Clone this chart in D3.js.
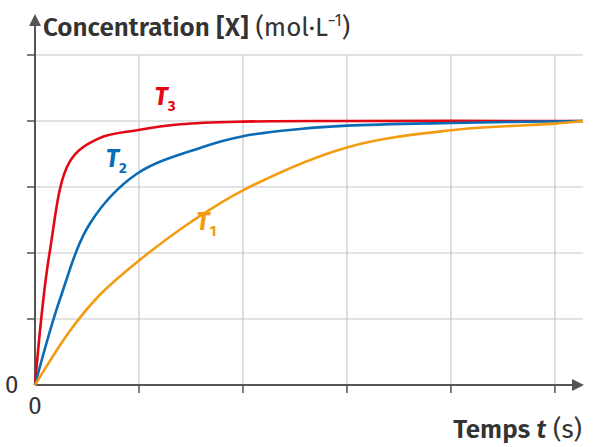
<!DOCTYPE html>
<html><head><meta charset="utf-8">
<script src="https://cdn.jsdelivr.net/npm/d3@7"></script>
<style>body{margin:0;background:#fff}</style>
</head><body>
<svg id="c" width="598" height="447"></svg>
<script>
const xTicks = [1, 2, 3, 4, 5];
const yTicks = [1, 2, 3, 4, 5];
const seriesT3 = [[0,0],[0.14,2.0],[0.34,3.4],[0.62,3.74],[0.98,3.86],[1.4,3.95],[2,3.99],[3,4],[5.27,4]];
const seriesT2 = [[0,0],[0.24,1.3],[0.53,2.45],[0.98,3.2],[1.6,3.6],[2,3.77],[2.55,3.88],[3,3.93],[4,3.97],[5.27,4]];
const seriesT1 = [[0,0],[0.34,0.83],[0.62,1.36],[0.98,1.86],[1.5,2.47],[2,2.95],[3,3.6],[4,3.86],[5,3.96],[5.27,4]];
const series = [
  {name: "T", sub: "3", data: seriesT3, color: "#e30613", at: [1.15, 4.25]},
  {name: "T", sub: "2", data: seriesT2, color: "#0b6cb5", at: [0.68, 3.3]},
  {name: "T", sub: "1", data: seriesT1, color: "#f39c12", at: [1.55, 2.35]}
];

const svg = d3.select("#c");
const font = "'Fira Sans','Open Sans',sans-serif";
const x = d3.scaleLinear().domain([0, 5.27]).range([35, 583]);
const y = d3.scaleLinear().domain([0, 4]).range([385, 121]);

// grid
svg.append("g").selectAll("line").data(xTicks).join("line")
  .attr("x1", d => x(d)).attr("x2", d => x(d)).attr("y1", y(0)).attr("y2", y(5))
  .attr("stroke", "#c8c8c8").attr("stroke-width", 1.2);
svg.append("g").selectAll("line").data(yTicks).join("line")
  .attr("x1", x(0)).attr("x2", 583).attr("y1", d => y(d)).attr("y2", d => y(d))
  .attr("stroke", "#c8c8c8").attr("stroke-width", 1.2);

// axes
const ax = "#555";
svg.append("line").attr("x1", x(0)).attr("x2", 573).attr("y1", y(0)).attr("y2", y(0)).attr("stroke", ax).attr("stroke-width", 2);
svg.append("path").attr("d", `M584,${y(0)} L572,${y(0)-6} L572,${y(0)+6}Z`).attr("fill", ax);
svg.append("line").attr("x1", x(0)).attr("x2", x(0)).attr("y1", y(0)).attr("y2", 26).attr("stroke", ax).attr("stroke-width", 2);
svg.append("path").attr("d", `M${x(0)},14 L${x(0)-6},26 L${x(0)+6},26Z`).attr("fill", ax);
svg.append("g").selectAll("line").data(xTicks).join("line")
  .attr("x1", d => x(d)).attr("x2", d => x(d)).attr("y1", y(0)).attr("y2", y(0) + 8).attr("stroke", ax).attr("stroke-width", 1.5);
svg.append("g").selectAll("line").data(yTicks).join("line")
  .attr("x1", x(0) - 8).attr("x2", x(0)).attr("y1", d => y(d)).attr("y2", d => y(d)).attr("stroke", ax).attr("stroke-width", 1.5);

svg.append("text").attr("x", 5).attr("y", 393).text("0").attr("font-family", font).attr("font-size", 24).attr("fill", "#333");
svg.append("text").attr("x", 35).attr("y", 414).attr("text-anchor", "middle").text("0").attr("font-family", font).attr("font-size", 24).attr("fill", "#333");

const t1 = svg.append("text").attr("x", 43).attr("y", 36).attr("font-family", font).attr("font-size", 26).attr("fill", "#333");
t1.append("tspan").attr("font-weight", 600).text("Concentration [X]");
t1.append("tspan").text(" (mol·L");
t1.append("tspan").attr("font-size", 16).attr("dy", -10).text("−1");
t1.append("tspan").attr("dy", 10).text(")");

const t2 = svg.append("text").attr("x", 582).attr("y", 438).attr("text-anchor", "end").attr("font-family", font).attr("font-size", 26).attr("fill", "#333");
t2.append("tspan").attr("font-weight", 600).text("Temps ");
t2.append("tspan").attr("font-weight", 600).attr("font-style", "italic").text("t");
t2.append("tspan").text(" (s)");

// curves
const line = d3.line().x(d => x(d[0])).y(d => y(d[1])).curve(d3.curveCatmullRom.alpha(0.5));
svg.append("g").selectAll("path").data(series).join("path")
  .attr("d", d => line(d.data)).attr("fill", "none")
  .attr("stroke", d => d.color).attr("stroke-width", 2.6);

series.forEach(s => {
  const t = svg.append("text").attr("x", x(s.at[0])).attr("y", y(s.at[1]))
    .attr("font-family", font).attr("font-size", 25).attr("font-weight", 700)
    .attr("font-style", "italic").attr("fill", s.color);
  t.append("tspan").text(s.name);
  t.append("tspan").attr("font-size", 15).attr("font-style", "normal").attr("dy", 6).text(s.sub);
});
</script>
</body></html>
